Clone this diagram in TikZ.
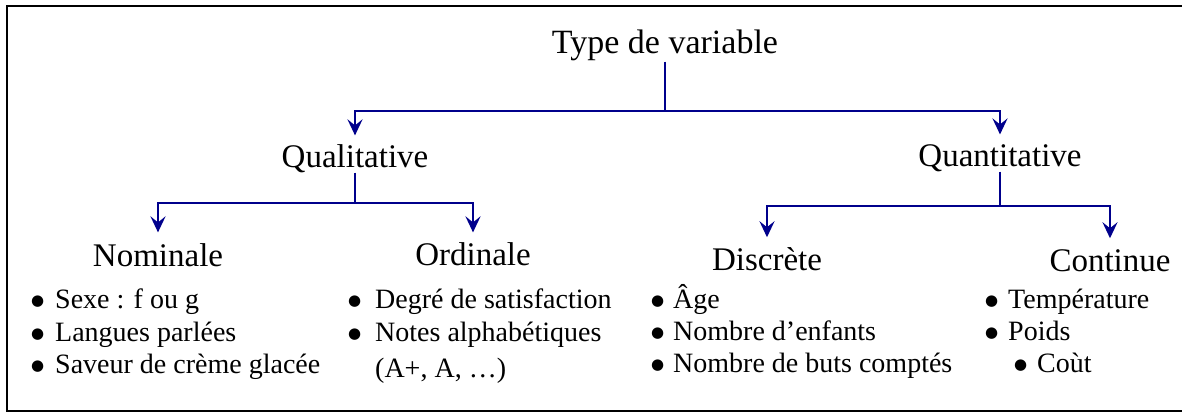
\documentclass[tikz,border=0pt]{standalone}
\usepackage{fontspec}
\setmainfont{Liberation Serif}
\newfontfamily\symfont{DejaVu Sans}
\usetikzlibrary{arrows.meta}
\definecolor{linkblue}{RGB}{0,0,140}
\tikzset{
  titletext/.style={anchor=base, inner sep=0pt, font=\fontsize{34}{40}\selectfont},
  headtext/.style={anchor=base, inner sep=0pt, font=\fontsize{33}{40}\selectfont},
  itemtext/.style={anchor=base west, inner sep=0pt, font=\fontsize{28}{33}\selectfont},
  conn/.style={draw=linkblue, line width=2.6pt},
  arr/.style={conn, -{Stealth[length=16pt,width=15pt,inset=6pt]}},
  frameline/.style={draw=black, line width=1.8pt}
}
\newcommand{\bul}[1]{\makebox[#1][l]{\raisebox{2.8pt}{\symfont\fontsize{15}{15}\selectfont ●}}}
\begin{document}
\begin{tikzpicture}[x=1pt,y=-1pt]
\useasboundingbox (0,0) rectangle (1182,412);
\draw[frameline] (1182,6) -- (7,6) -- (7,411) -- (1182,411);

% level 0
\node[titletext] (t) at (665,54) {Type de variable};
% level 1
\node[headtext] (ql) at (355,167) {Qualitative};
\node[headtext] (qn) at (1000,166) {Quantitative};
% level 2
\node[headtext] (nom) at (158,266) {Nominale};
\node[headtext] (ord) at (473,265) {Ordinale};
\node[headtext] (dis) at (767,270) {Discrète};
\node[headtext] (con) at (1110,271) {Continue};

% junctions
\coordinate (j1) at (665,111);
\coordinate (j2) at (355,203);
\coordinate (j3) at (1000,206);

\draw[conn] (t.south) -- (j1);
\draw[arr, shorten >=8.5pt] (j1) -| (ql.north);
\draw[arr, shorten >=9.5pt] (j1) -| (qn.north);

\draw[conn] (ql.south) -- (j2);
\draw[arr, shorten >=10.5pt] (j2) -| (nom.north);
\draw[arr, shorten >=9.5pt] (j2) -| (ord.north);

\draw[conn] (qn.south) -- (j3);
\draw[arr, shorten >=9.6pt] (j3) -| (dis.north);
\draw[arr, shorten >=10.7pt] (j3) -| (con.north);

% Nominale list
\node[itemtext] (n1) at (31,308) {\bul{24pt}Sexe : f ou g};
\node[itemtext] (n2) at (31,341) {\bul{24pt}Langues parlées};
\node[itemtext] (n3) at (31,373) {\bul{24pt}Saveur de crème glacée};

% Ordinale list
\node[itemtext] (o1) at (348,308) {\bul{27pt}Degré de satisfaction};
\node[itemtext] (o2) at (348,341) {\bul{27pt}Notes alphabétiques};
\node[itemtext] (o3) at (375,377) {(A+, A, …)};

% Discrète list
\node[itemtext] (d1) at (651,308) {\bul{22pt}Âge};
\node[itemtext] (d2) at (651,340) {\bul{22pt}Nombre d’enfants};
\node[itemtext] (d3) at (651,372) {\bul{22pt}Nombre de buts comptés};

% Continue list
\node[itemtext] (c1) at (985,308) {\bul{23pt}Température};
\node[itemtext] (c2) at (985,340) {\bul{23pt}Poids};
\node[itemtext] (c3) at (1014,372) {\bul{23pt}Coùt};
\end{tikzpicture}
\end{document}
